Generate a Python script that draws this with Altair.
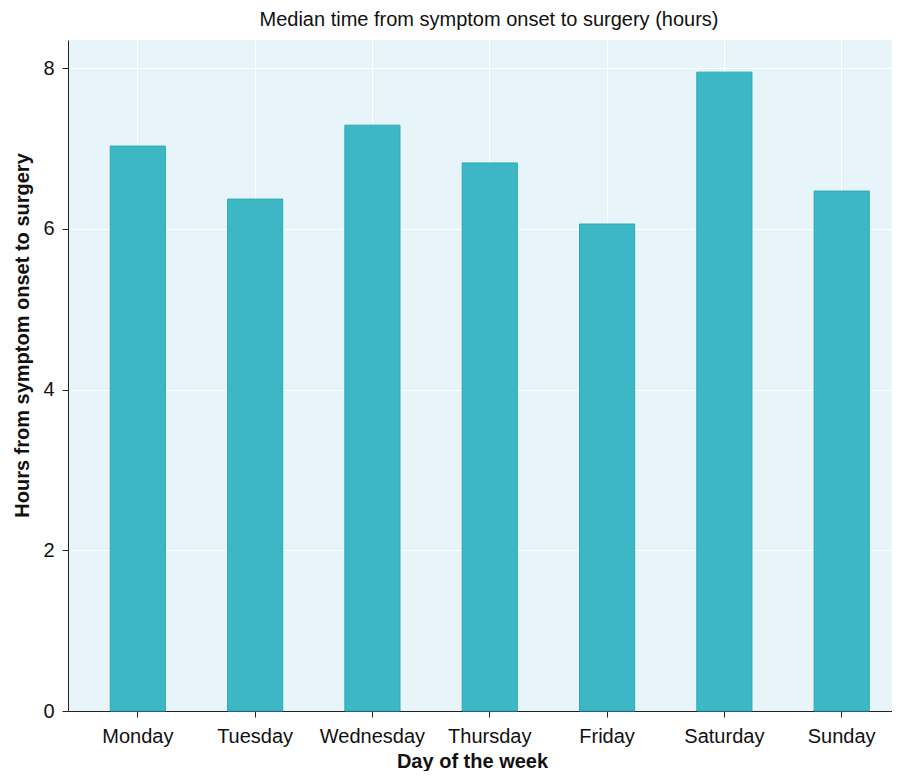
import altair as alt
import pandas as pd

days = ["Monday", "Tuesday", "Wednesday", "Thursday", "Friday", "Saturday", "Sunday"]
hours = [7.03, 6.37, 7.29, 6.82, 6.06, 7.95, 6.47]

df = pd.DataFrame({"day": days, "hours": hours})

FONT = "Liberation Sans"

chart = (
    alt.Chart(df)
    .mark_bar(color="#3DB7C4", stroke="#2AAAB8", strokeWidth=1)
    .encode(
        x=alt.X(
            "day:N",
            sort=days,
            title="Day of the week",
            scale=alt.Scale(paddingInner=0.53, paddingOuter=0.277, align=0.65),
            axis=alt.Axis(
                labelAngle=0,
                bandPosition=0.5,
                grid=True,
                gridColor="white",
                gridWidth=1,
                tickColor="#222222",
                tickSize=6,
                domainColor="#222222",
                labelFontSize=20,
                labelPadding=9,
                titleFontSize=20,
                titleFontWeight="bold",
                titleBaseline="alphabetic",
                titleX=404,
                titleY=56,
                labelColor="#111111",
                titleColor="#111111",
            ),
        ),
        y=alt.Y(
            "hours:Q",
            title="Hours from symptom onset to surgery",
            scale=alt.Scale(domain=[0, 8.35], nice=False),
            axis=alt.Axis(
                values=[0, 2, 4, 6, 8],
                grid=True,
                gridColor="white",
                gridWidth=1,
                tickColor="#222222",
                tickSize=6,
                domainColor="#222222",
                labelFontSize=20,
                labelPadding=8,
                titleFontSize=20,
                titleFontWeight="bold",
                titlePadding=10,
                titleY=295,
                labelColor="#111111",
                titleColor="#111111",
            ),
        ),
    )
    .properties(
        width=824,
        height=671,
        autosize=alt.AutoSizeParams(type="none"),
        padding={"left": 60, "top": 32, "right": 0, "bottom": 60},
        title=alt.TitleParams(
            "Median time from symptom onset to surgery (hours)",
            fontSize=20,
            fontWeight="normal",
            font=FONT,
            color="#111111",
            offset=10,
            dx=9,
        ),
    )
    .configure(font=FONT)
    .configure_view(fill="#E7F4F9", stroke=None)
)

chart.save("out.html", embed_options={"renderer": "svg", "actions": False})
